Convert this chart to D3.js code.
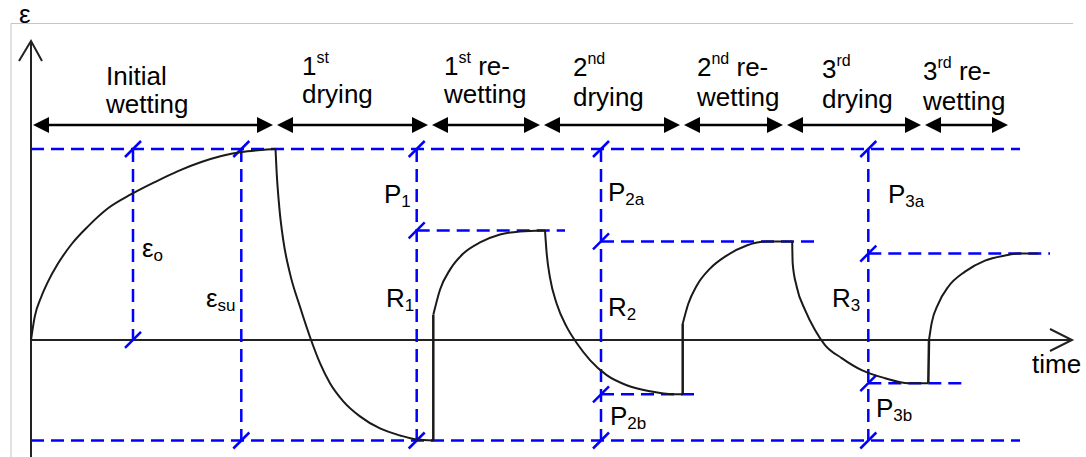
<!DOCTYPE html>
<html><head><meta charset="utf-8">
<script src="https://cdn.jsdelivr.net/npm/d3@7"></script>
<style>
html,body{margin:0;padding:0;background:#fff;}
svg{display:block;font-family:"Liberation Sans",Arial,sans-serif;}
</style></head><body>
<svg id="chart" width="1086" height="457"></svg>
<script>
// Strain history (time, strain) for each stage of the wetting / drying cycles
const initialWetting = [[0,0],[0.37,0.23],[1.03,0.43],[1.7,0.58],[2.7,0.76],[4.03,0.95],[5.7,1.13],[7.7,1.31],[10.03,1.45],[12.37,1.57],[14.7,1.68],[17.03,1.77],[19.03,1.83],[21.03,1.87],[23.03,1.89],[24.4,1.9]];
const drying1 = [[24.45,1.9],[24.57,1.66],[24.83,1.32],[25.23,0.99],[25.9,0.66],[26.9,0.33],[27.9,0.03],[28.9,-0.23],[29.9,-0.43],[31.23,-0.61],[32.9,-0.76],[34.9,-0.88],[36.9,-0.95],[38.57,-0.99],[40.23,-1.0]];
const rewetting1 = [[40.23,0.25],[40.9,0.5],[41.9,0.7],[43.23,0.86],[44.9,0.97],[46.9,1.05],[48.9,1.08],[51.23,1.09]];
const drying2 = [[51.4,1.09],[51.57,0.86],[51.9,0.62],[52.57,0.36],[53.57,0.13],[54.57,-0.03],[55.9,-0.2],[57.57,-0.35],[59.57,-0.45],[61.9,-0.51],[64.23,-0.54],[65.17,-0.54]];
const rewetting2 = [[65.17,0.16],[65.73,0.36],[66.57,0.54],[67.9,0.71],[69.57,0.84],[71.57,0.94],[73.57,0.98],[76.07,0.98]];
const drying3 = [[76.12,0.98],[76.17,0.76],[76.57,0.53],[77.4,0.3],[78.4,0.1],[79.4,-0.05],[81.07,-0.18],[83.07,-0.3],[85.4,-0.38],[87.73,-0.43],[89.73,-0.43]];
const rewetting3 = [[89.8,0],[90.07,0.17],[90.73,0.36],[91.73,0.53],[93.4,0.68],[95.4,0.79],[97.4,0.84],[98.73,0.86],[100.73,0.86]];

// Strain levels
const strainSwellUltimate = 1.9;
const strainShrinkMin = -1.0;
const referenceEnd = 98.9;

// Stage boundaries along the time axis and their names
const stageBounds = [0, 24.4, 39.9, 51.1, 65.1, 75.4, 89.2, 97.9];
const stageLine1 = [["Initial","",""],["1","st",""],["1","st"," re-"],["2","nd",""],["2","nd"," re-"],["3","rd",""],["3","rd"," re-"]];
const stageLine2 = ["wetting","drying","wetting","drying","wetting","drying","wetting"];

// Dimension markers: time, strain range, tick levels
const markerTimes = [10.2, 21.03, 38.57, 57.0, 83.73];
const markerRanges = [[1.9,0],[1.9,-1],[1.9,-1],[1.9,-1],[1.9,-1]];
const markerTicks = [[1.9,0],[1.9,-1],[1.9,1.09,-1],[1.9,0.98,-0.54,-1],[1.9,0.86,-0.43,-1]];

// Partial reference levels: [start time, end time, strain]
const partialLevels = [[38.57,53.4,1.09],[57.0,78.4,0.98],[57.0,66.4,-0.54],[83.73,101.9,0.86],[83.73,93.1,-0.43]];

// Dimension labels
const dimMain = ["ε","ε","P","R","P","R","P","R","P","P"];
const dimSub = ["o","su","1","1","2a","2","2b","3","3a","3b"];

const svg = d3.select("#chart");
const x = d3.scaleLinear().domain([0, 104.1]).range([31, 1072]);
const y = d3.scaleLinear().domain([-1, 1.9]).range([440.5, 149]);

const blue = "#0000ff";
const dash = "13,7";

// outer frame
svg.append("path").attr("d", "M11,457V23.5H1073").attr("fill","none").attr("stroke","#c4c4c4").attr("stroke-width",1);

// strain symbol above the vertical axis
svg.append("text").attr("x",19).attr("y",23).attr("font-size",26).attr("fill","#000").text("ε");

// axes
const axisColor = "#222";
svg.append("line").attr("x1", x(0)).attr("x2", x(0)).attr("y1", 457).attr("y2", 41)
  .attr("stroke", axisColor).attr("stroke-width", 2);
svg.append("path").attr("d", `M${x(0)-12},61L${x(0)},41L${x(0)+11},61`)
  .attr("fill","none").attr("stroke",axisColor).attr("stroke-width",2);
svg.append("line").attr("x1", x(0)).attr("x2", x(104.1)).attr("y1", y(0)).attr("y2", y(0))
  .attr("stroke", axisColor).attr("stroke-width", 2);
svg.append("path").attr("d", `M${x(104.1)-22},${y(0)-11}L${x(104.1)},${y(0)}L${x(104.1)-22},${y(0)+11}`)
  .attr("fill","none").attr("stroke",axisColor).attr("stroke-width",2);
svg.append("text").attr("x",1032).attr("y",373).attr("font-size",26).text("time");

// blue dashed reference lines
const ref = svg.append("g").attr("stroke", blue).attr("stroke-width", 2.5).attr("fill","none");
[strainSwellUltimate, strainShrinkMin].forEach(v => {
  ref.append("line").attr("x1", x(0)).attr("x2", x(referenceEnd)).attr("y1", y(v)).attr("y2", y(v))
    .attr("stroke-dasharray", dash);
});
partialLevels.forEach(([t0,t1,v]) => {
  ref.append("line").attr("x1", x(t0)).attr("x2", x(t1)).attr("y1", y(v)).attr("y2", y(v))
    .attr("stroke-dasharray", dash);
});
markerTimes.forEach((t,i) => {
  const [a,b] = markerRanges[i];
  ref.append("line").attr("x1", x(t)).attr("x2", x(t)).attr("y1", y(a)).attr("y2", y(b))
    .attr("stroke-dasharray", dash);
  markerTicks[i].forEach(v => {
    ref.append("line").attr("x1", x(t)-8).attr("x2", x(t)+8).attr("y1", y(v)+8).attr("y2", y(v)-8);
  });
});

// strain curve
const line = d3.line().x(d => x(d[0])).y(d => y(d[1])).curve(d3.curveMonotoneX);
const stages = [initialWetting, drying1, rewetting1, drying2, rewetting2, drying3, rewetting3];
const curves = svg.append("g").attr("fill","none").attr("stroke","#1a1a1a").attr("stroke-width",2);
stages.forEach((s,i) => {
  curves.append("path").attr("d", line(s));
  if (i < stages.length - 1) {
    const a = s[s.length-1], b = stages[i+1][0];
    curves.append("line").attr("x1", x(a[0])).attr("y1", y(a[1])).attr("x2", x(b[0])).attr("y2", y(b[1]))
      .attr("stroke-width", Math.abs(a[0] - b[0]) < 0.1 ? 2.5 : 2);
  }
});

// stage arrows
const arrowY = 125;
const arrows = svg.append("g");
for (let i = 0; i < stageBounds.length - 1; i++) {
  const x0 = x(stageBounds[i]) + 2, x1 = x(stageBounds[i+1]) - 2;
  arrows.append("line").attr("x1", x0+10).attr("x2", x1-10).attr("y1", arrowY).attr("y2", arrowY)
    .attr("stroke","#000").attr("stroke-width",2.5);
  arrows.append("path").attr("d", `M${x0},${arrowY}L${x0+16},${arrowY-8}L${x0+16},${arrowY+8}Z`).attr("fill","#000");
  arrows.append("path").attr("d", `M${x1},${arrowY}L${x1-16},${arrowY-8}L${x1-16},${arrowY+8}Z`).attr("fill","#000");
}

// stage names (left-aligned two-line labels)
const stageLabelX = [106, 302, 444, 573, 697, 822, 923];
const stageBase1 = [85, 75, 75, 76, 76, 78, 80];
const stageBase2 = [113, 103, 103, 106, 106, 108, 110];
stageLine1.forEach((parts, i) => {
  const t = svg.append("text").attr("x", stageLabelX[i]).attr("y", stageBase1[i]).attr("font-size", 26);
  t.append("tspan").text(parts[0]);
  if (parts[1]) t.append("tspan").attr("font-size", 16).attr("dy", -12).text(parts[1]);
  if (parts[2]) t.append("tspan").attr("dy", parts[1] ? 12 : 0).text(parts[2]);
  svg.append("text").attr("x", stageLabelX[i]).attr("y", stageBase2[i]).attr("font-size", 26).text(stageLine2[i]);
});

// dimension labels
const dimX = [142, 206, 384, 386, 608, 608, 610, 832, 888, 876];
const dimY = [257, 307, 203, 307, 201, 316, 425, 307, 203, 417];
dimMain.forEach((m, i) => {
  const t = svg.append("text").attr("x", dimX[i]).attr("y", dimY[i]).attr("font-size", 26);
  t.append("tspan").text(m);
  t.append("tspan").attr("font-size", 17).attr("dy", 4).text(dimSub[i]);
});
</script>
</body></html>
